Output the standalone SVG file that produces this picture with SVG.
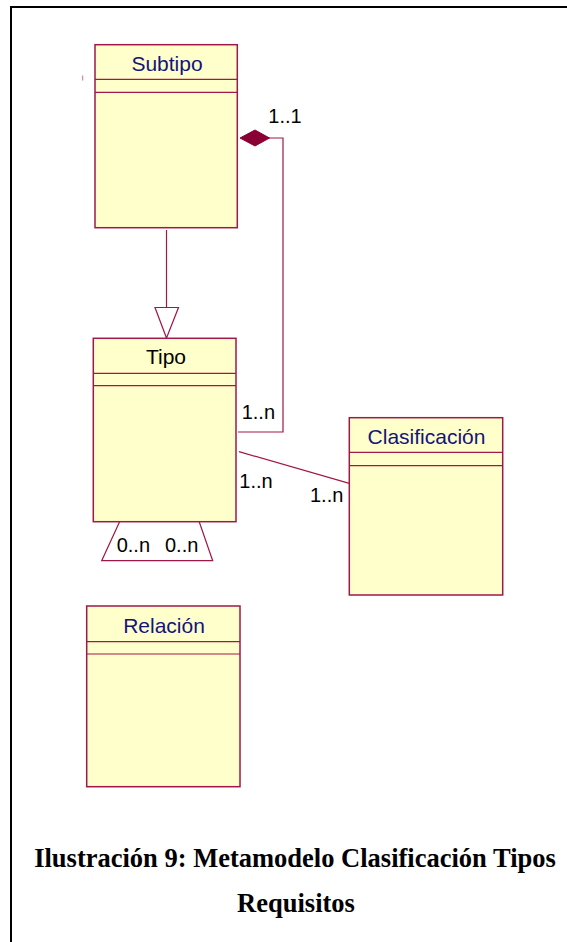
<svg xmlns="http://www.w3.org/2000/svg" width="567" height="942" viewBox="0 0 567 942">
<style>
.box{fill:#ffffcc;stroke:#a0174a;stroke-width:1.5}
.div{stroke:#a0174a;stroke-width:1.2}
.ttl{font-family:"Liberation Sans",Arial,sans-serif;font-size:21px;fill:#14147a;text-anchor:middle}
.lbl{font-family:"Liberation Sans",Arial,sans-serif;font-size:20px;fill:#000}
.con{fill:none;stroke:#a0174a;stroke-width:1.2}
.cap{font-family:"Liberation Serif","Times New Roman",serif;font-size:26.5px;font-weight:bold;fill:#000;text-anchor:middle}
</style>
<rect width="567" height="942" fill="#fff"/>
<path d="M11 942 V7 H567" fill="none" stroke="#000" stroke-width="2"/>
<line x1="82.7" y1="75.5" x2="82.7" y2="80.5" stroke="#d07090" stroke-width="1"/>
<g id="connectors">
<polyline class="con" points="269,138 283,138 283,432 238,432"/>
<polygon points="240,138 255,130 269.5,138 255,146" fill="#8b0034" stroke="#8b0034" stroke-width="1"/>
<line class="con" x1="166.5" y1="230" x2="166.5" y2="307.5"/>
<polygon class="con" points="155,307.5 178.5,307.5 166.5,338"/>
<line class="con" x1="239" y1="451.7" x2="349.3" y2="483.3"/>
<polyline class="con" points="119.5,522 101.7,560.7 212.7,560.7 199.3,522"/>
</g>
<g id="subtipo">
<rect class="box" x="95" y="44.7" width="142.3" height="183"/>
<line class="div" x1="95" y1="79.3" x2="237.3" y2="79.3"/>
<line class="div" x1="95" y1="92.3" x2="237.3" y2="92.3"/>
<text class="ttl" x="167" y="71">Subtipo</text>
</g>
<g id="tipo">
<rect class="box" x="93.3" y="338.3" width="142.7" height="183.4"/>
<line class="div" x1="93.3" y1="373.3" x2="236" y2="373.3"/>
<line class="div" x1="93.3" y1="385.7" x2="236" y2="385.7"/>
<text class="ttl" x="166" y="364" style="fill:#000">Tipo</text>
</g>
<g id="clasificacion">
<rect class="box" x="349.3" y="417.7" width="153.4" height="177.3"/>
<line class="div" x1="349.3" y1="452.3" x2="502.7" y2="452.3"/>
<line class="div" x1="349.3" y1="465.7" x2="502.7" y2="465.7"/>
<text class="ttl" x="426.5" y="444">Clasificación</text>
</g>
<g id="relacion">
<rect class="box" x="86.7" y="606" width="153.3" height="180.7"/>
<line class="div" x1="86.7" y1="641.7" x2="240" y2="641.7"/>
<line class="div" x1="86.7" y1="654" x2="240" y2="654"/>
<text class="ttl" x="164" y="633.3">Relación</text>
</g>
<g id="labels">
<text class="lbl" x="268.3" y="122.7">1..1</text>
<text class="lbl" x="241.7" y="419">1..n</text>
<text class="lbl" x="239.3" y="488">1..n</text>
<text class="lbl" x="310" y="501.7">1..n</text>
<text class="lbl" x="116.7" y="551.7">0..n</text>
<text class="lbl" x="165" y="551.7">0..n</text>
</g>
<g id="caption">
<text class="cap" x="295" y="866.7">Ilustración 9: Metamodelo Clasificación Tipos</text>
<text class="cap" x="296" y="912">Requisitos</text>
</g>
</svg>
